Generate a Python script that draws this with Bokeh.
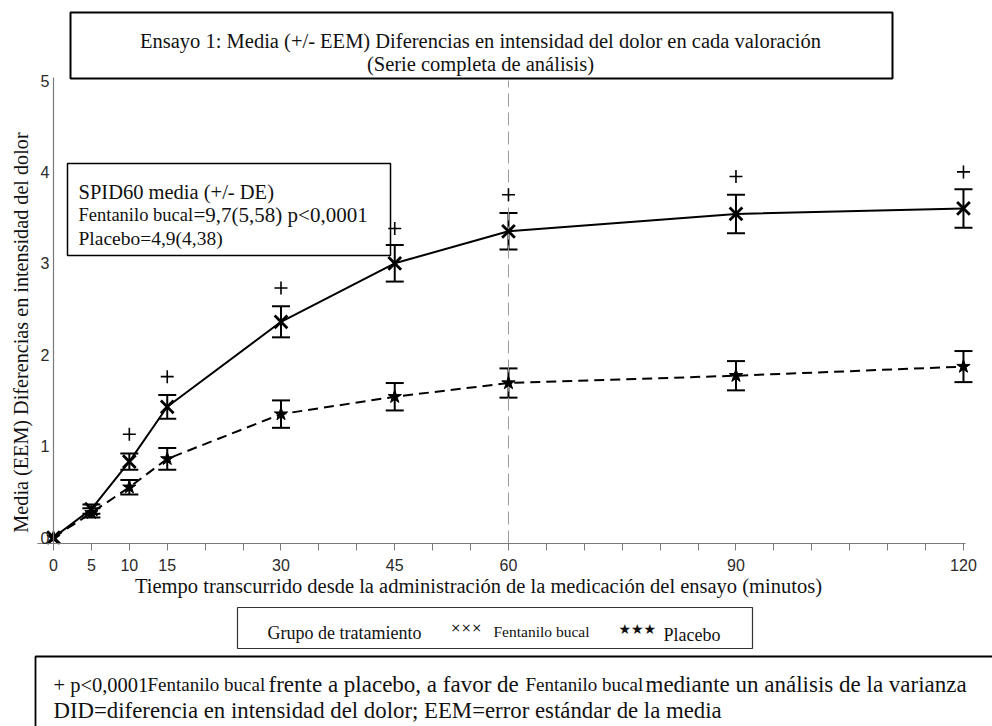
from bokeh.plotting import figure
from bokeh.models import (ColumnDataSource, Whisker, BoxAnnotation, Label,
                          FixedTicker, TeeHead, LinearAxis)
from bokeh.embed import file_html
from bokeh.resources import INLINE

# ---------------- data ----------------
minutes = [0, 5, 10, 15, 30, 45, 60, 90, 120]
fent_mean = [0.0, 0.31, 0.83, 1.43, 2.36, 3.00, 3.35, 3.54, 3.60]
fent_sem = [0.0, 0.05, 0.09, 0.13, 0.17, 0.20, 0.20, 0.21, 0.21]
plac_mean = [0.0, 0.27, 0.55, 0.86, 1.35, 1.54, 1.69, 1.77, 1.87]
plac_sem = [0.0, 0.05, 0.08, 0.12, 0.15, 0.15, 0.16, 0.16, 0.17]
sig_minutes = [10, 15, 30, 45, 60, 90, 120]
sig_y = [1.13, 1.76, 2.73, 3.38, 3.75, 3.95, 4.00]
x_tick_labels = [0, 5, 10, 15, 30, 45, 60, 90, 120]
y_ticks = [0, 1, 2, 3, 4, 5]
ref_minute = 60

title_lines = ["Ensayo 1: Media (+/- EEM) Diferencias en intensidad del dolor en cada valoración",
               "(Serie completa de análisis)"]
x_label = "Tiempo transcurrido desde la administración de la medicación del ensayo (minutos)"
y_label = "Media (EEM) Diferencias en intensidad del dolor"

# ---------------- geometry (picture px) ----------------
ORIGIN_X, ORIGIN_Y = 0, 0
W, H = 992, 726
X0_PX, X_PER_MIN = 53.0, 7.583
Y0_PX, Y_PER_UNIT = 537.0, 91.4

def xd(px):
    return (px - X0_PX) / X_PER_MIN

def yd(py):
    return (Y0_PX - py) / Y_PER_UNIT

p = figure(frame_width=W, frame_height=H,
           min_border_left=0, min_border_top=0, min_border_right=0, min_border_bottom=0,
           x_range=(xd(ORIGIN_X), xd(ORIGIN_X + W)),
           y_range=(yd(ORIGIN_Y + H), yd(ORIGIN_Y)),
           output_backend="svg", toolbar_location=None)
p.outline_line_color = None
p.grid.visible = False
p.background_fill_color = "white"
p.border_fill_color = "white"

SERIF = "Liberation Serif"
SANS = "Liberation Sans"
AXIS_GRAY = "#7a7a7a"

# x axis (drawn at its own place inside the canvas)
xa = p.xaxis[0]
xa.fixed_location = yd(543)
xa.bounds = (xd(37), xd(965))
xa.ticker = FixedTicker(ticks=list(range(0, 121, 5)), minor_ticks=[])
xa.major_label_overrides = {t: (str(t) if t in x_tick_labels else "") for t in range(0, 121, 5)}
xa.axis_line_color = AXIS_GRAY
xa.axis_line_width = 1.2
xa.major_tick_line_color = AXIS_GRAY
xa.major_tick_in = 0
xa.major_tick_out = 7
xa.minor_tick_line_color = None
xa.major_label_text_font = SANS
xa.major_label_text_font_size = "16px"
xa.major_label_text_color = "#2a2a2a"
xa.major_label_standoff = 8

# y axis at x = 0
ya = p.yaxis[0]
ya.fixed_location = 0
ya.bounds = (yd(543), yd(77))
ya.ticker = FixedTicker(ticks=y_ticks, minor_ticks=[])
ya.axis_line_color = AXIS_GRAY
ya.axis_line_width = 1.2
ya.major_tick_line_color = None
ya.minor_tick_line_color = None
ya.major_tick_in = 0
ya.major_tick_out = 0
ya.major_label_text_font = SANS
ya.major_label_text_font_size = "16px"
ya.major_label_text_color = "#2a2a2a"
ya.major_label_standoff = 4

# axis titles (separate tick-less axes so the titles sit where the reference has them)
xt = LinearAxis(fixed_location=yd(543), bounds=(xd(37), xd(919)),
                ticker=FixedTicker(ticks=[], minor_ticks=[]),
                axis_line_color=None, major_tick_line_color=None, minor_tick_line_color=None,
                major_tick_in=0, major_tick_out=0, major_label_standoff=0,
                axis_label=x_label, axis_label_text_font=SERIF,
                axis_label_text_font_size="20.5px", axis_label_text_font_style="normal",
                axis_label_text_color="#111111", axis_label_standoff=31)
p.add_layout(xt, "below")
yt = LinearAxis(fixed_location=0, bounds=(yd(543), yd(121)),
                ticker=FixedTicker(ticks=[], minor_ticks=[]),
                axis_line_color=None, major_tick_line_color=None, minor_tick_line_color=None,
                major_tick_in=0, major_tick_out=0, major_label_standoff=0,
                axis_label=y_label, axis_label_text_font=SERIF,
                axis_label_text_font_size="20.2px", axis_label_text_font_style="normal",
                axis_label_text_color="#111111", axis_label_standoff=22)
p.add_layout(yt, "left")

# reference line at 60 minutes
p.segment(x0=[ref_minute], y0=[yd(543)], x1=[ref_minute], y1=[yd(80)],
          line_color="#9a9a9a", line_width=1, line_dash="13 6")

# ---------------- series ----------------
fent_src = ColumnDataSource(dict(x=minutes, y=fent_mean))
plac_src = ColumnDataSource(dict(x=minutes, y=plac_mean))

p.line("x", "y", source=plac_src, line_color="black", line_width=2, line_dash="10 6")
p.line("x", "y", source=fent_src, line_color="black", line_width=2)

def whisker_source(xs, means, sems):
    keep = [i for i, s in enumerate(sems) if s > 0]
    return ColumnDataSource(dict(
        x=[xs[i] for i in keep],
        upper=[means[i] + sems[i] for i in keep],
        lower=[means[i] - sems[i] for i in keep]))

for m, s in ((fent_mean, fent_sem), (plac_mean, plac_sem)):
    p.add_layout(Whisker(base="x", upper="upper", lower="lower",
                         source=whisker_source(minutes, m, s),
                         line_color="black", line_width=2,
                         upper_head=TeeHead(size=18, line_color="black", line_width=2),
                         lower_head=TeeHead(size=18, line_color="black", line_width=2)))

p.scatter("x", "y", source=fent_src, marker="x", size=18, line_color="black", line_width=2.8)
p.scatter("x", "y", source=plac_src, marker="star", size=14, line_color="black",
          fill_color="black")
p.scatter(sig_minutes, sig_y, marker="cross", size=13, line_color="black", line_width=1.6)

# ---------------- annotations (picture coordinates -> screen units) ----------------
def sx(px):
    return px - ORIGIN_X

def sy(py):
    return ORIGIN_Y + H - py

def box(l, t, r, b, width=1.5, color="black"):
    p.add_layout(BoxAnnotation(left=sx(l), right=sx(r), top=sy(t), bottom=sy(b),
                               left_units="screen", right_units="screen",
                               top_units="screen", bottom_units="screen",
                               fill_alpha=0, line_color=color, line_width=width,
                               line_alpha=1))

def text(px, py, s, size, font=SERIF, align="left", color="#111111"):
    p.add_layout(Label(x=sx(px), y=sy(py), x_units="screen", y_units="screen", text=s,
                       text_font=font, text_font_size=size, text_align=align,
                       text_baseline="alphabetic", text_color=color))

# title box
box(70, 12, 892, 78, width=2)
text(480, 40, title_lines[0], "20.5px", align="center")
text(480, 63, title_lines[1], "20.5px", align="center")

# SPID box
box(67, 163, 390, 255, width=1.5)
text(78, 191, "SPID60 media (+/- DE)", "20.5px")
text(78, 214, "Fentanilo bucal", "18.5px")
text(193, 214, "=9,7(5,58) p<0,0001", "21px")
text(78, 238, "Placebo=4,9(4,38)", "19.5px")

# legend box
box(237, 607, 752, 648, width=1.2, color="#333333")
text(267, 632, "Grupo de tratamiento", "18px")
text(450, 627, "×××", "12.5px", font="DejaVu Sans")
text(493, 631, "Fentanilo bucal", "15.5px")
text(618, 628, "★★★", "14px", font="DejaVu Sans")
text(663, 634, "Placebo", "18px")

# footnote box
box(35, 656, 1010, 760, width=1.8)
text(53, 684, "+ p<0,0001", "20.5px")
text(147, 684, "Fentanilo bucal", "19px")
text(268, 684, "frente a placebo, a favor de", "23px")
text(525, 684, "Fentanilo bucal", "19px")
text(645, 684, "mediante un análisis de la varianza", "23px")
text(53, 710, "DID=diferencia en intensidad del dolor; EEM=error estándar de la media", "22.8px")

open("out.html", "w").write(file_html(p, INLINE))
